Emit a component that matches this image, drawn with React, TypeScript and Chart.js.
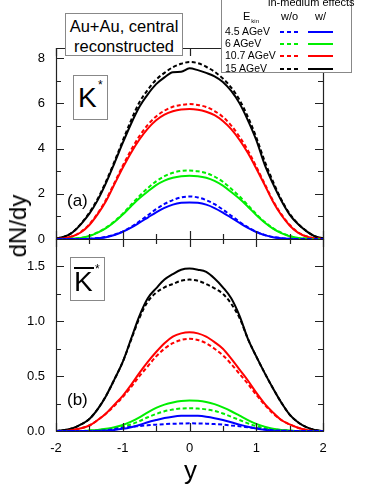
import React, { useEffect, useRef } from 'react';
import { Chart, registerables } from 'chart.js';
Chart.register(...registerables);

// ---------- data ----------
const RAPIDITY = [-2, -1.875, -1.75, -1.625, -1.5, -1.375, -1.25, -1.125, -1, -0.875, -0.75, -0.625, -0.5, -0.375, -0.25, -0.125, 0,
  0.125, 0.25, 0.375, 0.5, 0.625, 0.75, 0.875, 1, 1.125, 1.25, 1.375, 1.5, 1.625, 1.75, 1.875, 2];

// panel (a): K*
const kBlackWith = [0.03, 0.1, 0.3, 0.66, 1.12, 1.72, 2.48, 3.35, 4.25, 5.1, 5.85, 6.4, 6.85, 7.15, 7.38, 7.4, 7.55,
  7.47, 7.35, 7.2, 6.95, 6.55, 6.0, 5.25, 4.38, 3.3, 2.45, 1.7, 1.08, 0.66, 0.35, 0.12, 0.03];
const kBlackWithout = [0.03, 0.1, 0.3, 0.68, 1.17, 1.78, 2.55, 3.42, 4.35, 5.25, 6.05, 6.6, 7.05, 7.35, 7.6, 7.75, 7.83,
  7.78, 7.62, 7.4, 7.1, 6.7, 6.15, 5.4, 4.5, 3.45, 2.55, 1.75, 1.12, 0.68, 0.36, 0.12, 0.03];
const kRedWith = [0, 0.03, 0.12, 0.3, 0.62, 1.1, 1.68, 2.42, 3.15, 3.82, 4.4, 4.88, 5.25, 5.5, 5.65, 5.73, 5.75,
  5.72, 5.63, 5.48, 5.22, 4.86, 4.38, 3.8, 3.12, 2.4, 1.66, 1.06, 0.6, 0.28, 0.11, 0.03, 0];
const kRedWithout = [0, 0.03, 0.13, 0.32, 0.65, 1.14, 1.74, 2.48, 3.24, 3.94, 4.55, 5.05, 5.42, 5.68, 5.85, 5.93, 5.97,
  5.93, 5.84, 5.66, 5.4, 5.02, 4.52, 3.92, 3.2, 2.45, 1.7, 1.1, 0.63, 0.3, 0.12, 0.03, 0];
const kGreenWith = [0, 0, 0.02, 0.05, 0.13, 0.28, 0.48, 0.75, 1.08, 1.45, 1.8, 2.1, 2.38, 2.58, 2.71, 2.78, 2.8,
  2.78, 2.71, 2.57, 2.36, 2.08, 1.78, 1.43, 1.06, 0.73, 0.46, 0.26, 0.12, 0.05, 0.02, 0, 0];
const kGreenWithout = [0, 0, 0.02, 0.05, 0.14, 0.3, 0.5, 0.78, 1.12, 1.52, 1.9, 2.25, 2.55, 2.78, 2.93, 3.01, 3.03,
  3.0, 2.92, 2.76, 2.53, 2.22, 1.88, 1.5, 1.1, 0.76, 0.48, 0.28, 0.13, 0.05, 0.02, 0, 0];
const kBlueWith = [0, 0, 0, 0, 0.01, 0.03, 0.08, 0.18, 0.32, 0.5, 0.72, 0.95, 1.18, 1.38, 1.52, 1.6, 1.62,
  1.6, 1.52, 1.37, 1.17, 0.94, 0.71, 0.49, 0.31, 0.17, 0.08, 0.03, 0.01, 0, 0, 0, 0];
const kBlueWithout = [0, 0, 0, 0, 0.01, 0.04, 0.09, 0.19, 0.33, 0.53, 0.78, 1.05, 1.32, 1.55, 1.72, 1.84, 1.88,
  1.84, 1.72, 1.54, 1.3, 1.03, 0.76, 0.52, 0.32, 0.18, 0.09, 0.04, 0.01, 0, 0, 0, 0];

// panel (b): anti-K*
const kbBlackWith = [0, 0.01, 0.025, 0.06, 0.11, 0.2, 0.32, 0.47, 0.63, 0.84, 1.05, 1.21, 1.3, 1.38, 1.43, 1.47, 1.48,
  1.47, 1.45, 1.39, 1.31, 1.21, 1.05, 0.84, 0.68, 0.53, 0.39, 0.26, 0.15, 0.08, 0.035, 0.01, 0];
const kbBlackWithout = [0, 0.01, 0.025, 0.06, 0.11, 0.2, 0.32, 0.47, 0.63, 0.83, 1.03, 1.18, 1.26, 1.31, 1.34, 1.37, 1.38,
  1.37, 1.34, 1.3, 1.25, 1.16, 1.03, 0.84, 0.68, 0.53, 0.39, 0.26, 0.15, 0.08, 0.035, 0.01, 0];
const kbRedWith = [0, 0, 0.01, 0.025, 0.05, 0.1, 0.16, 0.24, 0.32, 0.42, 0.53, 0.63, 0.72, 0.8, 0.86, 0.89, 0.9,
  0.89, 0.86, 0.81, 0.75, 0.66, 0.56, 0.46, 0.35, 0.25, 0.17, 0.1, 0.06, 0.03, 0.01, 0, 0];
const kbRedWithout = [0, 0, 0.01, 0.025, 0.05, 0.1, 0.16, 0.23, 0.31, 0.4, 0.5, 0.59, 0.68, 0.75, 0.8, 0.83, 0.84,
  0.83, 0.8, 0.75, 0.69, 0.61, 0.52, 0.43, 0.33, 0.24, 0.16, 0.1, 0.06, 0.03, 0.01, 0, 0];
const kbGreenWith = [0, 0, 0, 0, 0.005, 0.01, 0.02, 0.035, 0.055, 0.085, 0.125, 0.17, 0.21, 0.24, 0.26, 0.273, 0.277,
  0.275, 0.265, 0.245, 0.215, 0.18, 0.14, 0.1, 0.065, 0.04, 0.02, 0.01, 0.005, 0, 0, 0, 0];
const kbGreenWithout = [0, 0, 0, 0, 0.004, 0.008, 0.015, 0.026, 0.04, 0.06, 0.09, 0.125, 0.155, 0.18, 0.195, 0.205, 0.207,
  0.205, 0.197, 0.183, 0.16, 0.13, 0.1, 0.07, 0.045, 0.027, 0.015, 0.008, 0.003, 0, 0, 0, 0];
const kbBlueWith = [0, 0, 0, 0, 0, 0.002, 0.005, 0.01, 0.02, 0.035, 0.055, 0.08, 0.1, 0.118, 0.13, 0.138, 0.14,
  0.138, 0.13, 0.117, 0.1, 0.08, 0.058, 0.038, 0.022, 0.011, 0.005, 0.002, 0, 0, 0, 0, 0];
const kbBlueWithout = [0, 0, 0, 0, 0, 0.002, 0.008, 0.018, 0.03, 0.038, 0.045, 0.052, 0.058, 0.063, 0.066, 0.068, 0.07,
  0.069, 0.067, 0.063, 0.058, 0.051, 0.043, 0.034, 0.025, 0.015, 0.008, 0.003, 0.001, 0, 0, 0, 0];

const ENERGIES = ['4.5 AGeV', '6 AGeV', '10.7 AGeV', '15 AGeV'];
const COLORS = ['#0000ff', '#00ee00', '#ff0000', '#000000'];

const X_TICKS = [-2, -1.5, -1, -0.5, 0, 0.5, 1, 1.5, 2];
const TOP_Y_TICKS = [0, 1, 2, 3, 4, 5, 6, 7, 8];
const BOT_Y_TICKS = [0, 0.25, 0.5, 0.75, 1.0, 1.25, 1.5];

const FONT = "'Liberation Sans', Arial, Helvetica, sans-serif";

function framePlugin(yTicks: number[], yMajorStep: number) {
  return {
    id: 'frameTicks',
    afterDatasetsDraw(chart: any) {
      const { ctx, chartArea: a, scales } = chart;
      ctx.save();
      ctx.strokeStyle = '#222';
      ctx.lineWidth = 1.2;
      ctx.beginPath();
      ctx.rect(Math.round(a.left) + 0.5, Math.round(a.top) + 0.5, Math.round(a.right - a.left), Math.round(a.bottom - a.top));
      ctx.stroke();
      ctx.beginPath();
      for (const v of yTicks) {
        const py = Math.round(scales.y.getPixelForValue(v)) + 0.5;
        const major = Math.abs(v / yMajorStep - Math.round(v / yMajorStep)) < 1e-6;
        const len = major ? 8 : 5;
        ctx.moveTo(a.left, py); ctx.lineTo(a.left + len, py);
        ctx.moveTo(a.right, py); ctx.lineTo(a.right - len, py);
      }
      for (const v of X_TICKS) {
        const px = Math.round(scales.x.getPixelForValue(v)) + 0.5;
        const major = Number.isInteger(v);
        const len = major ? 8 : 5;
        ctx.moveTo(px, a.bottom); ctx.lineTo(px, a.bottom - len);
        ctx.moveTo(px, a.top); ctx.lineTo(px, a.top + len);
      }
      ctx.stroke();
      ctx.restore();
    },
  };
}

function makeDatasets(withArr: number[][], withoutArr: number[][]) {
  const ds: any[] = [];
  withoutArr.forEach((arr, i) => {
    ds.push({
      data: RAPIDITY.map((x, j) => ({ x, y: arr[j] })),
      borderColor: COLORS[i], borderWidth: 2, borderDash: [4, 2.5],
      pointRadius: 0, cubicInterpolationMode: 'monotone', fill: false,
    });
  });
  withArr.forEach((arr, i) => {
    ds.push({
      data: RAPIDITY.map((x, j) => ({ x, y: arr[j] })),
      borderColor: COLORS[i], borderWidth: 2,
      pointRadius: 0, cubicInterpolationMode: 'monotone', fill: false,
    });
  });
  return ds;
}

const tickFont = { family: FONT, size: 13 };

export default function App() {
  const topRef = useRef<HTMLCanvasElement>(null);
  const botRef = useRef<HTMLCanvasElement>(null);

  useEffect(() => {
    const top = new Chart(topRef.current!, {
      type: 'line',
      data: {
        datasets: makeDatasets(
          [kBlueWith, kGreenWith, kRedWith, kBlackWith],
          [kBlueWithout, kGreenWithout, kRedWithout, kBlackWithout]
        ),
      },
      options: {
        animation: false,
        responsive: false,
        maintainAspectRatio: false,
        devicePixelRatio: 1,
        layout: { padding: { top: 48, right: 59, bottom: 21, left: 0 } },
        plugins: { legend: { display: false }, tooltip: { enabled: false } },
        scales: {
          x: { type: 'linear', min: -2, max: 2, display: false },
          y: {
            min: 0, max: 8.45,
            grid: { display: false, drawTicks: false },
            border: { display: false },
            ticks: { stepSize: 2, includeBounds: false, padding: 11, color: '#000', font: tickFont },
            afterFit: (s: any) => { s.width = 56; },
          },
        },
      } as any,
      plugins: [framePlugin(TOP_Y_TICKS, 2)],
    });

    const bot = new Chart(botRef.current!, {
      type: 'line',
      data: {
        datasets: makeDatasets(
          [kbBlueWith, kbGreenWith, kbRedWith, kbBlackWith],
          [kbBlueWithout, kbGreenWithout, kbRedWithout, kbBlackWithout]
        ),
      },
      options: {
        animation: false,
        responsive: false,
        maintainAspectRatio: false,
        devicePixelRatio: 1,
        layout: { padding: { top: 39, right: 59, bottom: 0, left: 0 } },
        plugins: { legend: { display: false }, tooltip: { enabled: false } },
        scales: {
          x: {
            type: 'linear', min: -2, max: 2,
            grid: { display: false, drawTicks: false },
            border: { display: false },
            ticks: { stepSize: 1, autoSkip: false, maxRotation: 0, padding: 10, color: '#000', font: tickFont },
            afterFit: (s: any) => { s.height = 63; },
          },
          y: {
            min: 0, max: 1.75,
            grid: { display: false, drawTicks: false },
            border: { display: false },
            ticks: {
              stepSize: 0.5, includeBounds: false, padding: 11, color: '#000', font: tickFont,
              callback: (v: any) => Number(v).toFixed(1),
            },
            afterFit: (s: any) => { s.width = 56; },
          },
        },
      } as any,
      plugins: [framePlugin(BOT_Y_TICKS, 0.5)],
    });

    return () => { top.destroy(); bot.destroy(); };
  }, []);

  const abs = (o: any): any => ({ position: 'absolute', whiteSpace: 'nowrap', ...o });
  const dash = (c: string) => ({
    height: 2,
    background: `repeating-linear-gradient(90deg, ${c} 0 4px, transparent 4px 7px)`,
  });

  return (
    <div style={abs({ left: 0, top: 0, width: 382, height: 494, background: '#fff', fontFamily: FONT, color: '#000', overflow: 'hidden' })}>
      <canvas ref={topRef} width={382} height={260} style={abs({ left: 0, top: 0 })} />
      <canvas ref={botRef} width={382} height={294} style={abs({ left: 0, top: 200 })} />

      {/* title box */}
      <div style={abs({ left: 65, top: 13, width: 118, height: 43, background: '#fff', border: '1px solid #888', textAlign: 'center', fontSize: 16.5, lineHeight: '20px', paddingTop: 2, boxSizing: 'border-box' })}>
        <div>Au+Au, central</div>
        <div>reconstructed</div>
      </div>

      {/* legend box */}
      <div style={abs({ left: 221, top: -6, width: 131, height: 79, background: '#fff', border: '1px solid #888', boxSizing: 'border-box', fontSize: 10.5 })}>
        <div style={abs({ left: 46, top: 1, fontSize: 11, lineHeight: '12px' })}>in-medium effects</div>
        <div style={abs({ left: 21, top: 15, fontSize: 11, lineHeight: '12px' })}>E<span style={{ fontSize: 6, position: 'relative', top: 3, marginLeft: 1 }}>kin</span></div>
        <div style={abs({ left: 59, top: 15, fontSize: 11, lineHeight: '12px' })}>w/o</div>
        <div style={abs({ left: 93, top: 15, fontSize: 11, lineHeight: '12px' })}>w/</div>
        {ENERGIES.map((e, i) => (
          <React.Fragment key={e}>
            <div style={abs({ left: 3, top: 30 + i * 12.2, lineHeight: '12px' })}>{e}</div>
            <div style={abs({ left: 58, top: 36 + i * 12.2, width: 20, ...dash(COLORS[i]) })} />
            <div style={abs({ left: 86, top: 36 + i * 12.2, width: 25, height: 2, background: COLORS[i] })} />
          </React.Fragment>
        ))}
      </div>

      {/* K* label */}
      <div style={abs({ left: 73, top: 75, width: 35, height: 45, border: '1px solid #888', background: '#fff', boxSizing: 'border-box' })}>
        <div style={abs({ left: 4, top: 6, fontSize: 28, lineHeight: '32px' })}>K</div>
        <div style={abs({ left: 24, top: 3, fontSize: 12, lineHeight: '12px' })}>*</div>
      </div>

      {/* anti-K* label */}
      <div style={abs({ left: 70, top: 257, width: 35, height: 44, border: '1px solid #888', background: '#fff', boxSizing: 'border-box' })}>
        <div style={abs({ left: 3, top: 9, width: 20, height: 2, background: '#000' })} />
        <div style={abs({ left: 3, top: 8, fontSize: 28, lineHeight: '32px' })}>K</div>
        <div style={abs({ left: 24, top: 5, fontSize: 12, lineHeight: '12px' })}>*</div>
      </div>

      <div style={abs({ left: 67, top: 191, fontSize: 17, lineHeight: '20px' })}>(a)</div>
      <div style={abs({ left: 67, top: 390, fontSize: 17, lineHeight: '20px' })}>(b)</div>

      {/* axis titles */}
      <div style={abs({ left: 18, top: 226, fontSize: 24, lineHeight: '26px', transform: 'translate(-50%, -50%) rotate(-90deg)' })}>dN/dy</div>
      <div style={abs({ left: 184, top: 456, fontSize: 26, lineHeight: '28px' })}>y</div>
    </div>
  );
}
